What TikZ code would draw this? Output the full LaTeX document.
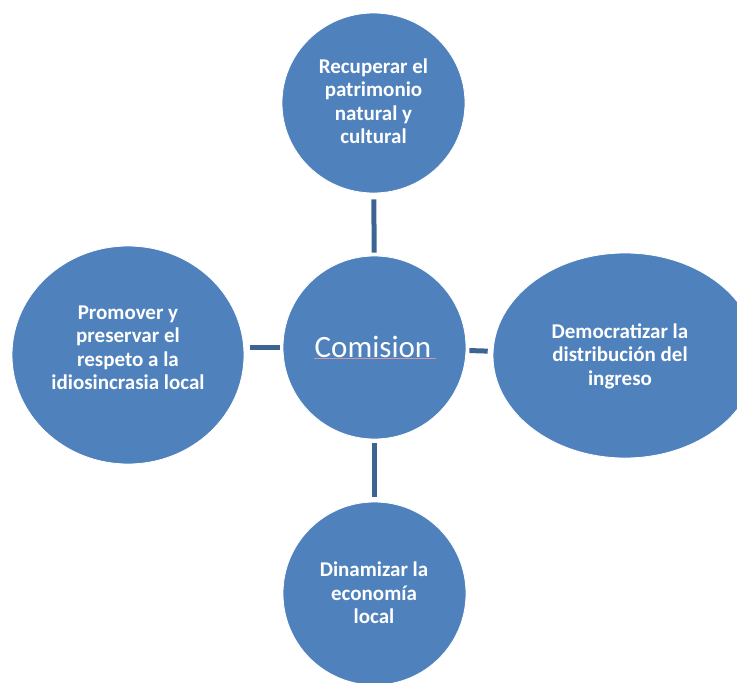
\documentclass[tikz,border=0pt]{standalone}
\usepackage{fontspec}
\setmainfont{Carlito}
\usetikzlibrary{shapes.geometric}
\definecolor{bubblefill}{HTML}{4F81BD}
\definecolor{linkcolor}{HTML}{3D6593}
\definecolor{squiggle}{HTML}{C99AAE}
\begin{document}
\begin{tikzpicture}[x=1pt,y=-1pt,
  bubble/.style={ellipse, fill=bubblefill, draw=white, line width=0.8pt, inner sep=0pt},
  topic/.style={text=white, align=center, inner sep=0pt,
    font=\fontsize{21}{23.5}\selectfont\bfseries},
  hubtext/.style={text=white, inner sep=0pt, font=\fontsize{31}{37}\selectfont},
  link/.style={draw=linkcolor, line width=5pt}]
\useasboundingbox (0,0) rectangle (737,683);
\clip (0,0) rectangle (737,683);

% bubbles
\node[bubble, minimum width=183pt, minimum height=180pt] (top)    at (373.5,103)   {};
\node[bubble, minimum width=183pt, minimum height=183pt] (hub)    at (374.5,347.5) {};
\node[bubble, minimum width=232pt, minimum height=218pt] (left)   at (128,355)     {};
\node[bubble, minimum width=264pt, minimum height=205pt] (right)  at (625,355.5)   {};
\node[bubble, minimum width=183pt, minimum height=183pt] (bottom) at (374.5,593.5) {};

% connectors
\draw[link, shorten <=6pt, shorten >=3pt] (top) -- (hub);
\draw[link, shorten <=3pt, shorten >=5pt] (hub) -- (right);
\draw[link, shorten <=4pt, shorten >=5pt] (hub) -- (bottom);
\draw[link, shorten <=3pt, shorten >=6pt] (hub.west) -- (left.east |- hub.west);

% labels
\node[topic] (topT)   at (373.5,101) {Recuperar el\\patrimonio\\natural y\\cultural};
\node[topic] (leftT)  at (128,348)   {Promover y\\preservar el\\respeto a la\\idiosincrasia local};
\node[topic] (rightT) at (620,356)   {Democratizar la\\distribución del\\ingreso};
\node[topic] (botT)   at (374,593)   {Dinamizar la\\economía\\local};
\node[hubtext] (hubT) at (373,346.5) {Comision};
\draw[squiggle, line width=0.5pt] ([yshift=-1.6pt]hubT.base west) -- ([xshift=4pt,yshift=-1.6pt]hubT.base east);
\end{tikzpicture}
\end{document}
